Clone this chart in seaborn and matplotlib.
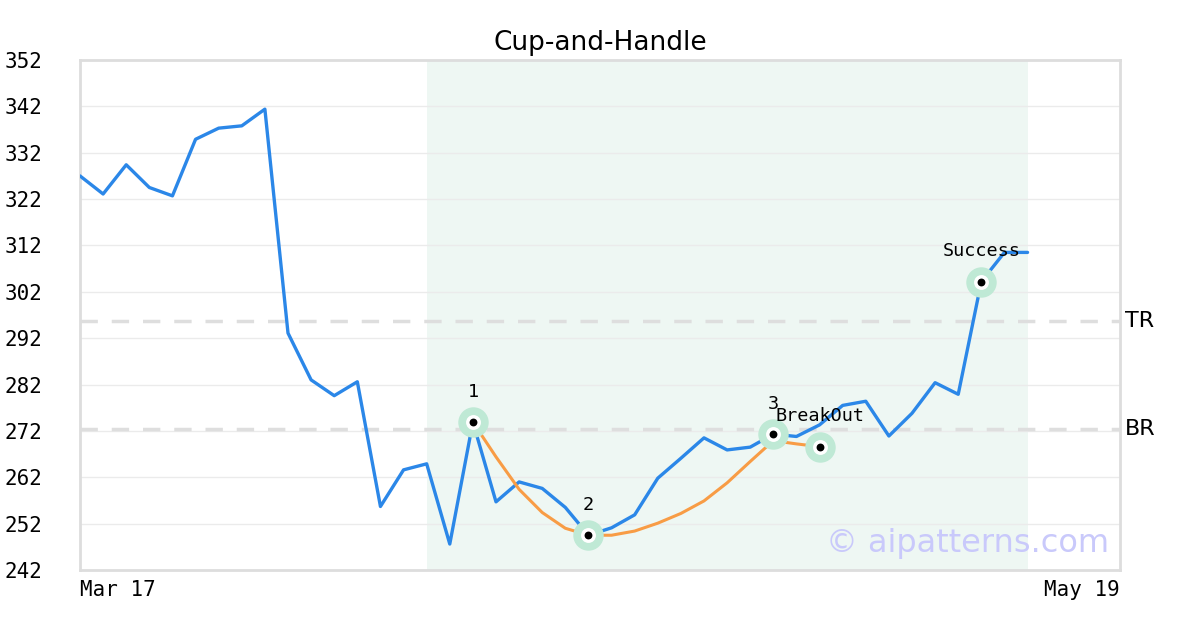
import numpy as np
import pandas as pd
import seaborn as sns
import matplotlib.pyplot as plt

# price series (one value per session, Mar 17 onwards)
price = [327.0, 323.1, 329.4, 324.5, 322.7, 334.9, 337.3, 337.8, 341.4, 293.1,
         283.0, 279.6, 282.6, 255.7, 263.6, 264.9, 247.6, 273.9, 256.7, 261.0,
         259.6, 255.5, 249.5, 251.1, 253.9, 261.8, 266.1, 270.5, 267.9, 268.5,
         271.3, 270.8, 273.3, 277.5, 278.4, 270.9, 275.8, 282.4, 279.9, 304.2,
         310.5, 310.5]

# fitted cup curve, starts at point 1 (index 17)
cup_start = 17
cup = [273.9, 266.4, 259.4, 254.4, 251.0, 249.5, 249.5, 250.4, 252.1, 254.2,
       256.9, 260.8, 265.4, 269.9, 269.2, 268.6]

# key points: index, value, label
key_idx = [17, 22, 30, 32, 39]
key_val = [273.9, 249.5, 271.3, 268.6, 304.2]
key_lbl = ['1', '2', '3', 'BreakOut', 'Success']

resistance = {'TR': 295.7, 'BR': 272.4}
shade_range = (15, 41)
x_labels = ['Mar 17', 'May 19']
n_sessions = 45

yticks = list(range(242, 353, 10))

df_price = pd.DataFrame({'x': np.arange(len(price)), 'price': price})
df_cup = pd.DataFrame({'x': np.arange(cup_start, cup_start + len(cup)), 'price': cup})
df_keys = pd.DataFrame({'x': key_idx, 'price': key_val, 'label': key_lbl})

sns.set_theme(style='white')
plt.rcParams['font.family'] = ['DejaVu Sans']
plt.rcParams['text.color'] = 'black'
plt.rcParams['xtick.color'] = 'black'
plt.rcParams['ytick.color'] = 'black'
plt.rcParams['axes.titlecolor'] = 'black'
mono = 'DejaVu Sans Mono'

fig = plt.figure(figsize=(12, 6.3), dpi=100)
ax = fig.add_axes([80 / 1200, 60 / 630, 1040 / 1200, 510 / 630])

ax.axvspan(*shade_range, color='#eef7f3', lw=0, zorder=0)
for y in yticks:
    ax.axhline(y, color='#ebebeb', lw=1, zorder=1)
for name, y in resistance.items():
    ax.axhline(y, color='#dedede', lw=2.5, dashes=(5, 4), zorder=1)
    ax.text(n_sessions + 0.2, y, name, fontsize=16, va='center', ha='left', color='black')

sns.lineplot(data=df_price, x='x', y='price', color='#2b87e8', lw=2.4, ax=ax, zorder=3)
sns.lineplot(data=df_cup, x='x', y='price', color='#f89c45', lw=2.2, ax=ax, zorder=4)

sns.scatterplot(data=df_keys, x='x', y='price', s=480, color='#bfe9d5', linewidth=0, ax=ax, zorder=5)
sns.scatterplot(data=df_keys, x='x', y='price', s=115, color='white', linewidth=0, ax=ax, zorder=6)
sns.scatterplot(data=df_keys, x='x', y='price', s=32, color='black', linewidth=0, ax=ax, zorder=7)

for _, r in df_keys.iterrows():
    ax.annotate(r['label'], (r['x'], r['price']), xytext=(0, 22), textcoords='offset points',
                ha='center', va='center', fontsize=13.3, family=mono, zorder=8)

ax.text(0.99, 0.052, '\u00a9 aipatterns.com', transform=ax.transAxes, ha='right', va='center',
        fontsize=23, color='#c9c9fb', zorder=2)

ax.set_xlim(0, n_sessions)
ax.set_ylim(yticks[0], yticks[-1])
ax.set_yticks(yticks)
ax.set_yticklabels([str(v) for v in yticks], family=mono, fontsize=15)
ax.set_xticks([0, n_sessions])
ax.set_xticklabels(x_labels, family=mono, fontsize=15)
xt = ax.get_xticklabels()
xt[0].set_ha('left')
xt[1].set_ha('right')
ax.tick_params(axis='y', length=0, pad=27)
ax.tick_params(axis='x', length=0, pad=7)
ax.set_xlabel('')
ax.set_ylabel('')
for sp in ax.spines.values():
    sp.set_color('#dddddd')
    sp.set_linewidth(2)
ax.set_title('Cup-and-Handle', fontsize=19, pad=7)

fig.savefig('out.png', dpi=100)
